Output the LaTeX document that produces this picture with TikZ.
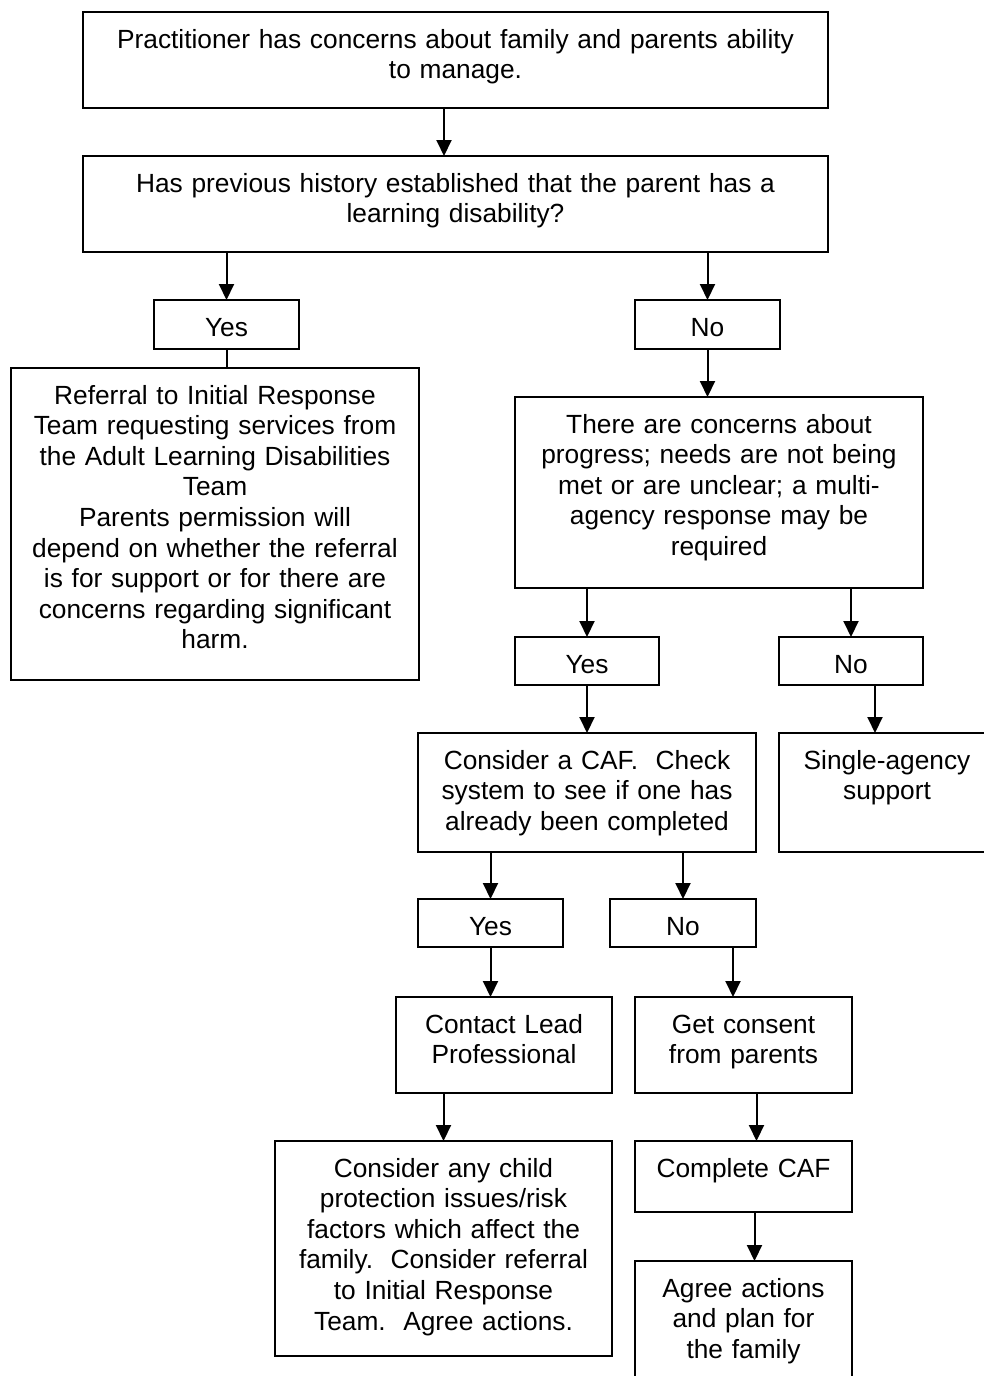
\documentclass[tikz,border=0pt]{standalone}
\usepackage{fontspec}
\setmainfont{Liberation Sans}
\usetikzlibrary{arrows.meta}
\newcommand\fs{\fontsize{26.3}{30.6}\selectfont}
\tikzset{
  box/.style={draw, line width=2pt, rectangle, inner sep=0pt, outer sep=0pt},
  txt/.style={anchor=base, align=center, inner sep=0pt, font=\fs},
  arr/.style={line width=2pt, -{Triangle[length=16pt,width=15pt]}},
  ln/.style={line width=2pt},
}
\newcommand\fbx[6]{%
  \node[box, minimum width={#4-#2}, minimum height={#5-#3}] (#1) at ({(#2+#4)/2},{(#3+#5)/2}) {};
  \node[txt, text width={#4-#2-4}] (#1t) at ({(#2+#4)/2},{#3+36}) {#6};
}
\frenchspacing
\begin{document}
\begin{tikzpicture}[x=1pt,y=-1pt]
\useasboundingbox[fill=white] (0,0) rectangle (984,1376);
\fbx{b1}{83}{12}{828}{108}{Practitioner has concerns about family and parents ability\\to manage.}
\fbx{b2}{83}{156}{828}{252}{Has previous history established that the parent has a\\learning disability?}
\fbx{y1}{154}{300}{299}{349}{Yes}
\fbx{n1}{635}{300}{780}{349}{No}
\fbx{L}{11}{368}{419}{680}{Referral to Initial Response\\Team requesting services from\\the Adult Learning Disabilities\\Team\\Parents permission will\\depend on whether the referral\\is for support or for there are\\concerns regarding significant\\harm.}
\fbx{R}{515}{397}{923}{588}{There are concerns about\\progress; needs are not being\\met or are unclear; a multi-\\agency response may be\\required}
\fbx{y2}{515}{637}{659}{685}{Yes}
\fbx{n2}{779}{637}{923}{685}{No}
\fbx{caf}{418}{733}{756}{852}{Consider a CAF.~~Check\\system to see if one has\\already been completed}
\fbx{single}{779}{733}{995}{852}{Single-agency\\support}
\fbx{y3}{418}{899}{563}{947}{Yes}
\fbx{n3}{610}{899}{756}{947}{No}
\fbx{contact}{396}{997}{612}{1093}{Contact Lead\\Professional}
\fbx{consent}{635}{997}{852}{1093}{Get consent\\from parents}
\fbx{consider}{275}{1141}{612}{1356}{Consider any child\\protection issues/risk\\factors which affect the\\family.~~Consider referral\\to Initial Response\\Team.~~Agree actions.}
\fbx{complete}{635}{1141}{852}{1212}{Complete CAF}
\fbx{agree}{635}{1261}{852}{1392}{Agree actions\\and plan for\\the family}

\draw[arr] ([xshift=-11.5pt]b1.south) -- ([xshift=-11.5pt]b2.north);
\draw[arr] (y1 |- b2.south) -- (y1.north);
\draw[arr] (n1 |- b2.south) -- (n1.north);
\draw[ln] (y1.south) -- (y1.south |- L.north);
\draw[arr] (n1.south) -- (n1.south |- R.north);
\draw[arr] (y2 |- R.south) -- (y2.north);
\draw[arr] (n2 |- R.south) -- (n2.north);
\draw[arr] (y2.south) -- (y2.south |- caf.north);
\coordinate (n2o) at ([xshift=24pt]n2.south);
\draw[arr] (n2o) -- (n2o |- single.north);
\draw[arr] (y3 |- caf.south) -- (y3.north);
\draw[arr] (n3 |- caf.south) -- (n3.north);
\draw[arr] (y3.south) -- (y3.south |- contact.north);
\coordinate (n3o) at ([xshift=50pt]n3.south);
\draw[arr] (n3o) -- (n3o |- consent.north);
\draw[arr] (consider |- contact.south) -- (consider.north);
\draw[arr] ([xshift=13pt]consent.south) -- ([xshift=13pt]complete.north);
\draw[arr] ([xshift=11pt]complete.south) -- ([xshift=11pt]agree.north);
\end{tikzpicture}
\end{document}
